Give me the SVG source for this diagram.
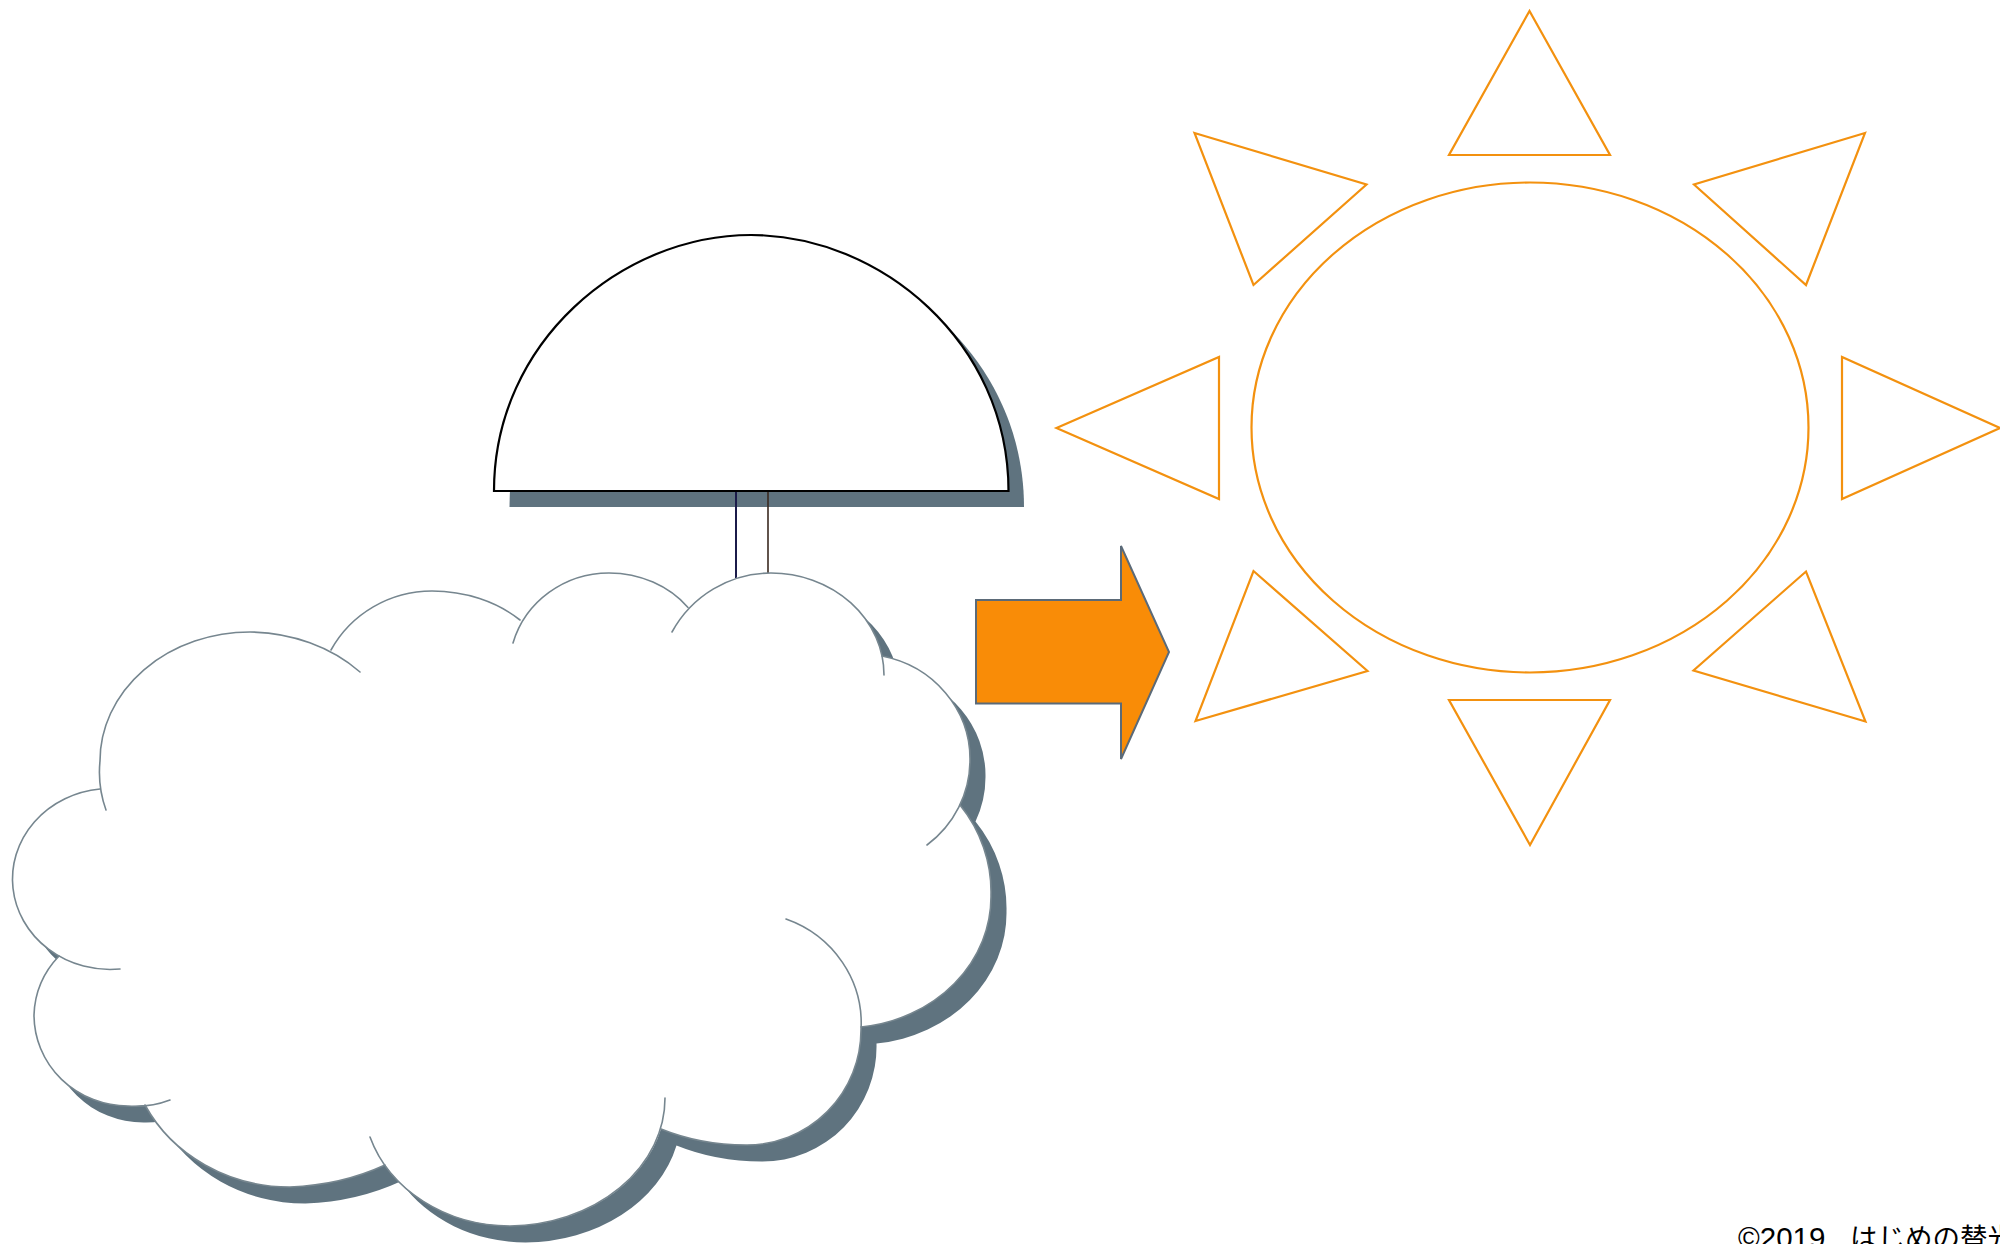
<svg xmlns="http://www.w3.org/2000/svg" width="2000" height="1244" viewBox="0 0 2000 1244">
<style>
.shadow{fill:#5f737f;stroke:none}
.sun{fill:#fff;stroke:#f3910f;stroke-width:2.2;stroke-linejoin:miter}
.arc{fill:none;stroke:#76868f;stroke-width:1.6;stroke-linecap:round}
.label{font-family:"Liberation Sans","Noto Sans CJK JP",sans-serif;fill:#000}
</style>
<defs>
<path id="cloudShape" d="M100,789 A150,129 0 0 1 100,761 A150,129 0 0 1 250,632 A155,129 0 0 1 331,650 A115,113 0 0 1 432,591 A125,100 0 0 1 520,620 A100,97 0 0 1 609,573 A100,89 0 0 1 688,607.5 A113,114 0 0 1 771,573 A113,102 0 0 1 882,656 A110,105 0 0 1 970,760 A110,107 0 0 1 960,805 A146,141 0 0 1 991,895 A146,131 0 0 1 861,1027 A114,115 0 0 1 746,1145 A170,119 0 0 1 661,1129 A157,128 0 0 1 510,1226 A147,128 0 0 1 385,1165 A200,150 0 0 1 290,1187 A162,150 0 0 1 145,1105 A94,91 0 0 1 128,1106 A94,91 0 0 1 34,1015 A94,91 0 0 1 59,956 A97,90 0 0 1 100,789 Z"/>
<path id="domeShape" d="M494,491 C494,342 622,235 751,235 C880,235 1008.5,342 1008.5,491 Z"/>
</defs>
<rect width="2000" height="1244" fill="#fff"/>
<g id="umbrella">
<use href="#domeShape" class="shadow" transform="translate(15.5,16)"/>
<use href="#domeShape" fill="#fff" stroke="#000" stroke-width="2.2"/>
</g>
<g id="connectors">
<line x1="736" y1="492" x2="736" y2="578" stroke="#1b1b4a" stroke-width="2"/>
<line x1="768" y1="492" x2="768" y2="574" stroke="#3a2a20" stroke-width="1.6"/>
</g>
<g id="cloud">
<use href="#cloudShape" class="shadow" transform="translate(15.5,16.5)"/>
<use href="#cloudShape" fill="#fff"/>
<path class="arc" d="M106,810 A150,129 0 0 1 100,761 A150,129 0 0 1 250,632 A155,129 0 0 1 360,672"/>
<path class="arc" d="M331,650 A115,113 0 0 1 432,591 A125,100 0 0 1 520,620"/>
<path class="arc" d="M513,643 A100,97 0 0 1 609,573 A100,89 0 0 1 688,607.5"/>
<path class="arc" d="M672,632 A113,114 0 0 1 771,573 A113,102 0 0 1 884,675"/>
<path class="arc" d="M882,656 A110,105 0 0 1 970,760 A110,107 0 0 1 927,845"/>
<path class="arc" d="M960,805 A146,141 0 0 1 991,895 A146,131 0 0 1 861,1027"/>
<path class="arc" d="M786,919 A114,111 0 0 1 861,1030 A114,115 0 0 1 746,1145 A170,119 0 0 1 661,1129"/>
<path class="arc" d="M665,1098 A157,128 0 0 1 510,1226 A147,128 0 0 1 370,1137"/>
<path class="arc" d="M385,1165 A200,150 0 0 1 290,1187 A162,150 0 0 1 145,1105"/>
<path class="arc" d="M170,1100 A94,91 0 0 1 128,1106 A94,91 0 0 1 34,1015 A94,91 0 0 1 59,956"/>
<path class="arc" d="M120,969 A97,90 0 0 1 100,789"/>
</g>
<g id="arrow">
<path d="M976,600 H1121 V546 L1169,652 L1121,759 V703.5 H976 Z" fill="#f98c07" stroke="#5b6a78" stroke-width="2"/>
</g>
<g id="sun">
<ellipse id="sun-disc" class="sun" cx="1530" cy="427.5" rx="278.5" ry="245"/>
<polygon id="ray-top" class="sun" points="1529.5,11 1449,155 1610,155"/>
<polygon id="ray-top-right" class="sun" points="1865,133 1694,184.5 1806,285"/>
<polygon id="ray-right" class="sun" points="2000,428 1842,357 1842,499"/>
<polygon id="ray-bottom-right" class="sun" points="1865.5,721.5 1693.5,670.5 1806,571.5"/>
<polygon id="ray-bottom" class="sun" points="1530,845 1449,700 1610,700"/>
<polygon id="ray-bottom-left" class="sun" points="1195.5,721 1367.5,671 1253.5,571"/>
<polygon id="ray-left" class="sun" points="1056.5,428 1219,357 1219,499"/>
<polygon id="ray-top-left" class="sun" points="1194.5,133 1366.5,184.5 1253.5,285"/>
</g>
<g id="copyright">
<text class="label" x="1738" y="1248" font-size="29.5">©2019</text>
<text class="label" x="1850" y="1248" font-size="27.5">はじめの替光</text>
</g>
</svg>
